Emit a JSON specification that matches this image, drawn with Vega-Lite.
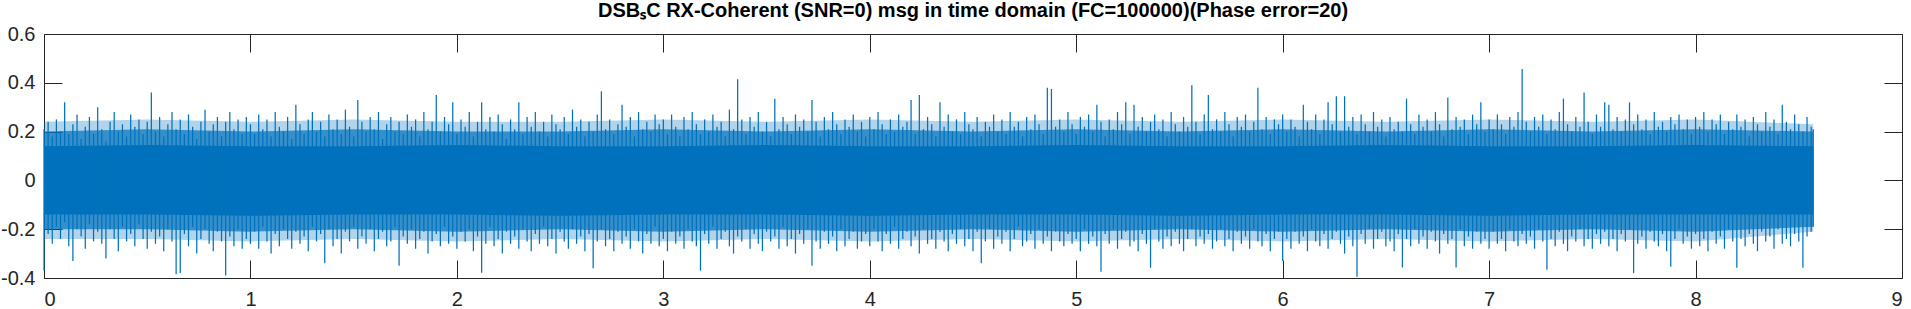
{
"$schema":"https://vega.github.io/schema/vega-lite/v6.json",
"width":1858,"height":244,
"autosize":{"type":"none"},
"padding":{"left":44,"top":34,"right":9,"bottom":31},
"background":"white",
"title":{"text":"DSBₛC RX-Coherent (SNR=0) msg in time domain (FC=100000)(Phase error=20)","font":"Liberation Sans","fontSize":20,"fontWeight":"bold","color":"#000000","anchor":"middle","frame":"group","baseline":"alphabetic","offset":-13},
"config":{"view":{"stroke":null},"axis":{"domainColor":"#262626","tickColor":"#262626","labelColor":"#262626","labelFont":"Liberation Sans","labelFontSize":20,"grid":false,"tickSize":-18,"domainWidth":1,"tickWidth":1}},
"datasets":{
"env":[
{"t":0,"eh":0.2,"el":-0.2,"fh":0.24,"fl":-0.24,"ch":0.14,"cl":-0.14},
{"t":0.5,"eh":0.21,"el":-0.2,"fh":0.25,"fl":-0.24,"ch":0.145,"cl":-0.14},
{"t":1,"eh":0.2,"el":-0.21,"fh":0.24,"fl":-0.25,"ch":0.14,"cl":-0.145},
{"t":1.5,"eh":0.21,"el":-0.2,"fh":0.25,"fl":-0.24,"ch":0.14,"cl":-0.14},
{"t":2,"eh":0.2,"el":-0.21,"fh":0.24,"fl":-0.25,"ch":0.145,"cl":-0.14},
{"t":2.5,"eh":0.2,"el":-0.2,"fh":0.24,"fl":-0.24,"ch":0.14,"cl":-0.145},
{"t":3,"eh":0.21,"el":-0.21,"fh":0.25,"fl":-0.25,"ch":0.14,"cl":-0.14},
{"t":3.5,"eh":0.2,"el":-0.2,"fh":0.24,"fl":-0.24,"ch":0.145,"cl":-0.14},
{"t":4,"eh":0.21,"el":-0.21,"fh":0.25,"fl":-0.25,"ch":0.14,"cl":-0.145},
{"t":4.5,"eh":0.2,"el":-0.2,"fh":0.24,"fl":-0.24,"ch":0.14,"cl":-0.14},
{"t":5,"eh":0.21,"el":-0.21,"fh":0.25,"fl":-0.25,"ch":0.145,"cl":-0.14},
{"t":5.5,"eh":0.2,"el":-0.2,"fh":0.24,"fl":-0.24,"ch":0.14,"cl":-0.145},
{"t":6,"eh":0.21,"el":-0.21,"fh":0.25,"fl":-0.25,"ch":0.14,"cl":-0.14},
{"t":6.5,"eh":0.2,"el":-0.2,"fh":0.24,"fl":-0.24,"ch":0.145,"cl":-0.14},
{"t":7,"eh":0.21,"el":-0.21,"fh":0.25,"fl":-0.25,"ch":0.14,"cl":-0.145},
{"t":7.5,"eh":0.2,"el":-0.2,"fh":0.24,"fl":-0.24,"ch":0.14,"cl":-0.14},
{"t":8,"eh":0.21,"el":-0.21,"fh":0.25,"fl":-0.25,"ch":0.145,"cl":-0.14},
{"t":8.57,"eh":0.2,"el":-0.19,"fh":0.23,"fl":-0.21,"ch":0.14,"cl":-0.14}
],
"sig":[
{"t":0,"h":0.21,"l":-0.37},{"t":0.02,"h":0.24,"l":-0.22},{"t":0.04,"h":0.18,"l":-0.26},{"t":0.06,"h":0.25,"l":-0.19},{"t":0.08,"h":0.2,"l":-0.24},
{"t":0.1,"h":0.32,"l":-0.17},{"t":0.12,"h":0.19,"l":-0.27},{"t":0.14,"h":0.23,"l":-0.33},{"t":0.16,"h":0.27,"l":-0.2},{"t":0.18,"h":0.17,"l":-0.23},
{"t":0.2,"h":0.22,"l":-0.28},{"t":0.22,"h":0.26,"l":-0.18},{"t":0.24,"h":0.19,"l":-0.25},{"t":0.26,"h":0.3,"l":-0.21},{"t":0.28,"h":0.21,"l":-0.26},
{"t":0.3,"h":0.16,"l":-0.32},{"t":0.32,"h":0.24,"l":-0.2},{"t":0.34,"h":0.28,"l":-0.24},{"t":0.36,"h":0.2,"l":-0.29},{"t":0.38,"h":0.23,"l":-0.19},
{"t":0.4,"h":0.18,"l":-0.25},{"t":0.42,"h":0.27,"l":-0.22},{"t":0.44,"h":0.22,"l":-0.27},{"t":0.46,"h":0.25,"l":-0.18},{"t":0.48,"h":0.19,"l":-0.24},
{"t":0.5,"h":0.24,"l":-0.28},{"t":0.52,"h":0.36,"l":-0.21},{"t":0.54,"h":0.2,"l":-0.26},{"t":0.56,"h":0.26,"l":-0.23},{"t":0.58,"h":0.18,"l":-0.29},
{"t":0.6,"h":0.23,"l":-0.2},{"t":0.62,"h":0.28,"l":-0.25},{"t":0.64,"h":0.21,"l":-0.385},{"t":0.66,"h":0.25,"l":-0.38},{"t":0.68,"h":0.19,"l":-0.22},
{"t":0.7,"h":0.27,"l":-0.27},{"t":0.72,"h":0.22,"l":-0.19},{"t":0.74,"h":0.17,"l":-0.3},{"t":0.76,"h":0.24,"l":-0.24},{"t":0.78,"h":0.29,"l":-0.2},
{"t":0.8,"h":0.2,"l":-0.26},{"t":0.82,"h":0.23,"l":-0.29},{"t":0.84,"h":0.26,"l":-0.21},{"t":0.86,"h":0.18,"l":-0.25},{"t":0.88,"h":0.24,"l":-0.39},
{"t":0.9,"h":0.28,"l":-0.23},{"t":0.92,"h":0.21,"l":-0.27},{"t":0.94,"h":0.25,"l":-0.2},{"t":0.96,"h":0.19,"l":-0.28},{"t":0.98,"h":0.26,"l":-0.24},
{"t":1,"h":0.23,"l":-0.26},{"t":1.02,"h":0.19,"l":-0.21},{"t":1.04,"h":0.27,"l":-0.28},{"t":1.06,"h":0.21,"l":-0.19},{"t":1.08,"h":0.25,"l":-0.25},
{"t":1.1,"h":0.18,"l":-0.3},{"t":1.12,"h":0.28,"l":-0.22},{"t":1.14,"h":0.22,"l":-0.27},{"t":1.16,"h":0.2,"l":-0.2},{"t":1.18,"h":0.26,"l":-0.24},
{"t":1.2,"h":0.17,"l":-0.28},{"t":1.22,"h":0.31,"l":-0.21},{"t":1.24,"h":0.23,"l":-0.26},{"t":1.26,"h":0.19,"l":-0.23},{"t":1.28,"h":0.25,"l":-0.29},
{"t":1.3,"h":0.28,"l":-0.19},{"t":1.32,"h":0.2,"l":-0.25},{"t":1.34,"h":0.24,"l":-0.22},{"t":1.36,"h":0.18,"l":-0.34},{"t":1.38,"h":0.27,"l":-0.2},
{"t":1.4,"h":0.21,"l":-0.27},{"t":1.42,"h":0.25,"l":-0.24},{"t":1.44,"h":0.19,"l":-0.3},{"t":1.46,"h":0.29,"l":-0.21},{"t":1.48,"h":0.22,"l":-0.25},
{"t":1.5,"h":0.18,"l":-0.19},{"t":1.52,"h":0.33,"l":-0.28},{"t":1.54,"h":0.24,"l":-0.23},{"t":1.56,"h":0.2,"l":-0.26},{"t":1.58,"h":0.26,"l":-0.2},
{"t":1.6,"h":0.21,"l":-0.29},{"t":1.62,"h":0.28,"l":-0.24},{"t":1.64,"h":0.17,"l":-0.21},{"t":1.66,"h":0.23,"l":-0.27},{"t":1.68,"h":0.26,"l":-0.25},
{"t":1.7,"h":0.2,"l":-0.19},{"t":1.72,"h":0.24,"l":-0.35},{"t":1.74,"h":0.19,"l":-0.23},{"t":1.76,"h":0.27,"l":-0.26},{"t":1.78,"h":0.22,"l":-0.2},
{"t":1.8,"h":0.25,"l":-0.28},{"t":1.82,"h":0.18,"l":-0.24},{"t":1.84,"h":0.28,"l":-0.21},{"t":1.86,"h":0.21,"l":-0.3},{"t":1.88,"h":0.24,"l":-0.25},
{"t":1.9,"h":0.35,"l":-0.22},{"t":1.92,"h":0.2,"l":-0.27},{"t":1.94,"h":0.26,"l":-0.19},{"t":1.96,"h":0.23,"l":-0.26},{"t":1.98,"h":0.32,"l":-0.23},
{"t":2,"h":0.19,"l":-0.28},{"t":2.02,"h":0.25,"l":-0.21},{"t":2.04,"h":0.22,"l":-0.25},{"t":2.06,"h":0.28,"l":-0.2},{"t":2.08,"h":0.18,"l":-0.29},
{"t":2.1,"h":0.24,"l":-0.23},{"t":2.12,"h":0.32,"l":-0.378},{"t":2.14,"h":0.21,"l":-0.26},{"t":2.16,"h":0.26,"l":-0.19},{"t":2.18,"h":0.2,"l":-0.27},
{"t":2.2,"h":0.27,"l":-0.24},{"t":2.22,"h":0.23,"l":-0.3},{"t":2.24,"h":0.17,"l":-0.21},{"t":2.26,"h":0.25,"l":-0.26},{"t":2.28,"h":0.21,"l":-0.23},
{"t":2.3,"h":0.32,"l":-0.28},{"t":2.32,"h":0.19,"l":-0.2},{"t":2.34,"h":0.26,"l":-0.25},{"t":2.36,"h":0.22,"l":-0.29},{"t":2.38,"h":0.28,"l":-0.22},
{"t":2.4,"h":0.2,"l":-0.26},{"t":2.42,"h":0.24,"l":-0.19},{"t":2.44,"h":0.18,"l":-0.27},{"t":2.46,"h":0.27,"l":-0.24},{"t":2.48,"h":0.23,"l":-0.3},
{"t":2.5,"h":0.21,"l":-0.21},{"t":2.52,"h":0.26,"l":-0.25},{"t":2.54,"h":0.19,"l":-0.28},{"t":2.56,"h":0.29,"l":-0.2},{"t":2.58,"h":0.22,"l":-0.26},
{"t":2.6,"h":0.25,"l":-0.23},{"t":2.62,"h":0.18,"l":-0.29},{"t":2.64,"h":0.24,"l":-0.22},{"t":2.66,"h":0.2,"l":-0.36},{"t":2.68,"h":0.27,"l":-0.25},
{"t":2.7,"h":0.365,"l":-0.2},{"t":2.72,"h":0.21,"l":-0.27},{"t":2.74,"h":0.25,"l":-0.24},{"t":2.76,"h":0.19,"l":-0.29},{"t":2.78,"h":0.23,"l":-0.21},
{"t":2.8,"h":0.31,"l":-0.26},{"t":2.82,"h":0.22,"l":-0.23},{"t":2.84,"h":0.26,"l":-0.28},{"t":2.86,"h":0.18,"l":-0.2},{"t":2.88,"h":0.28,"l":-0.25},
{"t":2.9,"h":0.21,"l":-0.3},{"t":2.92,"h":0.24,"l":-0.22},{"t":2.94,"h":0.2,"l":-0.26},{"t":2.96,"h":0.27,"l":-0.19},{"t":2.98,"h":0.23,"l":-0.27},
{"t":3,"h":0.25,"l":-0.24},{"t":3.02,"h":0.19,"l":-0.29},{"t":3.04,"h":0.27,"l":-0.21},{"t":3.06,"h":0.22,"l":-0.26},{"t":3.08,"h":0.18,"l":-0.23},
{"t":3.1,"h":0.26,"l":-0.28},{"t":3.12,"h":0.21,"l":-0.2},{"t":3.14,"h":0.28,"l":-0.25},{"t":3.16,"h":0.23,"l":-0.27},{"t":3.18,"h":0.19,"l":-0.37},
{"t":3.2,"h":0.25,"l":-0.22},{"t":3.22,"h":0.2,"l":-0.26},{"t":3.24,"h":0.27,"l":-0.19},{"t":3.26,"h":0.22,"l":-0.28},{"t":3.28,"h":0.24,"l":-0.24},
{"t":3.3,"h":0.18,"l":-0.21},{"t":3.32,"h":0.29,"l":-0.27},{"t":3.34,"h":0.21,"l":-0.3},{"t":3.36,"h":0.415,"l":-0.23},{"t":3.38,"h":0.25,"l":-0.25},
{"t":3.4,"h":0.19,"l":-0.2},{"t":3.42,"h":0.26,"l":-0.28},{"t":3.44,"h":0.22,"l":-0.22},{"t":3.46,"h":0.28,"l":-0.26},{"t":3.48,"h":0.2,"l":-0.29},
{"t":3.5,"h":0.24,"l":-0.21},{"t":3.52,"h":0.18,"l":-0.25},{"t":3.54,"h":0.335,"l":-0.23},{"t":3.56,"h":0.21,"l":-0.28},{"t":3.58,"h":0.26,"l":-0.19},
{"t":3.6,"h":0.23,"l":-0.27},{"t":3.62,"h":0.19,"l":-0.24},{"t":3.64,"h":0.27,"l":-0.3},{"t":3.66,"h":0.22,"l":-0.22},{"t":3.68,"h":0.25,"l":-0.26},
{"t":3.7,"h":0.2,"l":-0.2},{"t":3.72,"h":0.33,"l":-0.35},{"t":3.74,"h":0.24,"l":-0.25},{"t":3.76,"h":0.18,"l":-0.28},{"t":3.78,"h":0.26,"l":-0.21},
{"t":3.8,"h":0.21,"l":-0.26},{"t":3.82,"h":0.28,"l":-0.23},{"t":3.84,"h":0.23,"l":-0.29},{"t":3.86,"h":0.19,"l":-0.2},{"t":3.88,"h":0.25,"l":-0.27},
{"t":3.9,"h":0.22,"l":-0.24},{"t":3.92,"h":0.27,"l":-0.21},{"t":3.94,"h":0.2,"l":-0.28},{"t":3.96,"h":0.24,"l":-0.25},{"t":3.98,"h":0.18,"l":-0.22},
{"t":4,"h":0.26,"l":-0.27},{"t":4.02,"h":0.21,"l":-0.2},{"t":4.04,"h":0.28,"l":-0.25},{"t":4.06,"h":0.23,"l":-0.29},{"t":4.08,"h":0.19,"l":-0.22},
{"t":4.1,"h":0.25,"l":-0.26},{"t":4.12,"h":0.2,"l":-0.19},{"t":4.14,"h":0.27,"l":-0.28},{"t":4.16,"h":0.22,"l":-0.24},{"t":4.18,"h":0.24,"l":-0.21},
{"t":4.2,"h":0.33,"l":-0.27},{"t":4.22,"h":0.19,"l":-0.23},{"t":4.24,"h":0.35,"l":-0.3},{"t":4.26,"h":0.21,"l":-0.2},{"t":4.28,"h":0.26,"l":-0.26},
{"t":4.3,"h":0.23,"l":-0.24},{"t":4.32,"h":0.18,"l":-0.28},{"t":4.34,"h":0.32,"l":-0.21},{"t":4.36,"h":0.22,"l":-0.25},{"t":4.38,"h":0.27,"l":-0.29},
{"t":4.4,"h":0.2,"l":-0.22},{"t":4.42,"h":0.25,"l":-0.26},{"t":4.44,"h":0.19,"l":-0.2},{"t":4.46,"h":0.28,"l":-0.27},{"t":4.48,"h":0.23,"l":-0.24},
{"t":4.5,"h":0.21,"l":-0.29},{"t":4.52,"h":0.26,"l":-0.21},{"t":4.54,"h":0.18,"l":-0.34},{"t":4.56,"h":0.24,"l":-0.25},{"t":4.58,"h":0.22,"l":-0.2},
{"t":4.6,"h":0.27,"l":-0.28},{"t":4.62,"h":0.2,"l":-0.23},{"t":4.64,"h":0.25,"l":-0.26},{"t":4.66,"h":0.19,"l":-0.21},{"t":4.68,"h":0.28,"l":-0.29},
{"t":4.7,"h":0.22,"l":-0.24},{"t":4.72,"h":0.24,"l":-0.19},{"t":4.74,"h":0.18,"l":-0.27},{"t":4.76,"h":0.26,"l":-0.25},{"t":4.78,"h":0.21,"l":-0.22},
{"t":4.8,"h":0.27,"l":-0.28},{"t":4.82,"h":0.23,"l":-0.2},{"t":4.84,"h":0.19,"l":-0.26},{"t":4.86,"h":0.38,"l":-0.23},{"t":4.88,"h":0.375,"l":-0.29},
{"t":4.9,"h":0.22,"l":-0.21},{"t":4.92,"h":0.25,"l":-0.25},{"t":4.94,"h":0.2,"l":-0.27},{"t":4.96,"h":0.28,"l":-0.22},{"t":4.98,"h":0.23,"l":-0.26},
{"t":5,"h":0.19,"l":-0.24},{"t":5.02,"h":0.26,"l":-0.29},{"t":5.04,"h":0.22,"l":-0.2},{"t":5.06,"h":0.27,"l":-0.26},{"t":5.08,"h":0.2,"l":-0.23},
{"t":5.1,"h":0.31,"l":-0.27},{"t":5.12,"h":0.24,"l":-0.374},{"t":5.14,"h":0.18,"l":-0.22},{"t":5.16,"h":0.25,"l":-0.26},{"t":5.18,"h":0.21,"l":-0.2},
{"t":5.2,"h":0.28,"l":-0.28},{"t":5.22,"h":0.23,"l":-0.24},{"t":5.24,"h":0.32,"l":-0.21},{"t":5.26,"h":0.19,"l":-0.27},{"t":5.28,"h":0.31,"l":-0.25},
{"t":5.3,"h":0.22,"l":-0.29},{"t":5.32,"h":0.26,"l":-0.22},{"t":5.34,"h":0.2,"l":-0.26},{"t":5.36,"h":0.24,"l":-0.358},{"t":5.38,"h":0.27,"l":-0.2},
{"t":5.4,"h":0.21,"l":-0.25},{"t":5.42,"h":0.25,"l":-0.28},{"t":5.44,"h":0.18,"l":-0.23},{"t":5.46,"h":0.28,"l":-0.27},{"t":5.48,"h":0.23,"l":-0.21},
{"t":5.5,"h":0.2,"l":-0.26},{"t":5.52,"h":0.26,"l":-0.29},{"t":5.54,"h":0.22,"l":-0.24},{"t":5.56,"h":0.39,"l":-0.2},{"t":5.58,"h":0.24,"l":-0.27},
{"t":5.6,"h":0.19,"l":-0.23},{"t":5.62,"h":0.27,"l":-0.26},{"t":5.64,"h":0.35,"l":-0.22},{"t":5.66,"h":0.21,"l":-0.28},{"t":5.68,"h":0.25,"l":-0.25},
{"t":5.7,"h":0.2,"l":-0.2},{"t":5.72,"h":0.28,"l":-0.27},{"t":5.74,"h":0.23,"l":-0.24},{"t":5.76,"h":0.18,"l":-0.29},{"t":5.78,"h":0.26,"l":-0.21},
{"t":5.8,"h":0.22,"l":-0.26},{"t":5.82,"h":0.27,"l":-0.23},{"t":5.84,"h":0.2,"l":-0.28},{"t":5.86,"h":0.24,"l":-0.2},{"t":5.88,"h":0.38,"l":-0.25},
{"t":5.9,"h":0.21,"l":-0.27},{"t":5.92,"h":0.26,"l":-0.22},{"t":5.94,"h":0.19,"l":-0.29},{"t":5.96,"h":0.25,"l":-0.24},{"t":5.98,"h":0.23,"l":-0.21},
{"t":6,"h":0.27,"l":-0.33},{"t":6.02,"h":0.2,"l":-0.24},{"t":6.04,"h":0.25,"l":-0.28},{"t":6.06,"h":0.22,"l":-0.21},{"t":6.08,"h":0.18,"l":-0.26},
{"t":6.1,"h":0.31,"l":-0.23},{"t":6.12,"h":0.24,"l":-0.29},{"t":6.14,"h":0.21,"l":-0.2},{"t":6.16,"h":0.27,"l":-0.25},{"t":6.18,"h":0.19,"l":-0.27},
{"t":6.2,"h":0.25,"l":-0.22},{"t":6.22,"h":0.32,"l":-0.28},{"t":6.24,"h":0.23,"l":-0.24},{"t":6.26,"h":0.345,"l":-0.21},{"t":6.28,"h":0.2,"l":-0.26},
{"t":6.3,"h":0.345,"l":-0.3},{"t":6.32,"h":0.22,"l":-0.23},{"t":6.34,"h":0.26,"l":-0.27},{"t":6.36,"h":0.19,"l":-0.395},{"t":6.38,"h":0.27,"l":-0.22},
{"t":6.4,"h":0.23,"l":-0.26},{"t":6.42,"h":0.2,"l":-0.2},{"t":6.44,"h":0.28,"l":-0.28},{"t":6.46,"h":0.22,"l":-0.24},{"t":6.48,"h":0.25,"l":-0.21},
{"t":6.5,"h":0.18,"l":-0.27},{"t":6.52,"h":0.26,"l":-0.25},{"t":6.54,"h":0.21,"l":-0.29},{"t":6.56,"h":0.24,"l":-0.22},{"t":6.58,"h":0.2,"l":-0.357},
{"t":6.6,"h":0.335,"l":-0.24},{"t":6.62,"h":0.23,"l":-0.27},{"t":6.64,"h":0.19,"l":-0.2},{"t":6.66,"h":0.27,"l":-0.26},{"t":6.68,"h":0.22,"l":-0.23},
{"t":6.7,"h":0.25,"l":-0.28},{"t":6.72,"h":0.2,"l":-0.21},{"t":6.74,"h":0.28,"l":-0.25},{"t":6.76,"h":0.23,"l":-0.3},{"t":6.78,"h":0.18,"l":-0.22},
{"t":6.8,"h":0.34,"l":-0.26},{"t":6.82,"h":0.21,"l":-0.24},{"t":6.84,"h":0.26,"l":-0.357},{"t":6.86,"h":0.22,"l":-0.2},{"t":6.88,"h":0.25,"l":-0.27},
{"t":6.9,"h":0.19,"l":-0.23},{"t":6.92,"h":0.27,"l":-0.28},{"t":6.94,"h":0.23,"l":-0.21},{"t":6.96,"h":0.32,"l":-0.26},{"t":6.98,"h":0.2,"l":-0.24},
{"t":7,"h":0.25,"l":-0.28},{"t":7.02,"h":0.21,"l":-0.21},{"t":7.04,"h":0.27,"l":-0.26},{"t":7.06,"h":0.23,"l":-0.24},{"t":7.08,"h":0.19,"l":-0.29},
{"t":7.1,"h":0.26,"l":-0.2},{"t":7.12,"h":0.22,"l":-0.25},{"t":7.14,"h":0.28,"l":-0.27},{"t":7.16,"h":0.457,"l":-0.22},{"t":7.18,"h":0.24,"l":-0.26},
{"t":7.2,"h":0.2,"l":-0.23},{"t":7.22,"h":0.26,"l":-0.28},{"t":7.24,"h":0.22,"l":-0.2},{"t":7.26,"h":0.27,"l":-0.25},{"t":7.28,"h":0.19,"l":-0.366},
{"t":7.3,"h":0.25,"l":-0.24},{"t":7.32,"h":0.21,"l":-0.27},{"t":7.34,"h":0.28,"l":-0.21},{"t":7.36,"h":0.335,"l":-0.26},{"t":7.38,"h":0.23,"l":-0.29},
{"t":7.4,"h":0.2,"l":-0.23},{"t":7.42,"h":0.26,"l":-0.25},{"t":7.44,"h":0.22,"l":-0.2},{"t":7.46,"h":0.36,"l":-0.27},{"t":7.48,"h":0.24,"l":-0.24},
{"t":7.5,"h":0.19,"l":-0.28},{"t":7.52,"h":0.27,"l":-0.22},{"t":7.54,"h":0.22,"l":-0.26},{"t":7.56,"h":0.32,"l":-0.21},{"t":7.58,"h":0.31,"l":-0.27},
{"t":7.6,"h":0.21,"l":-0.24},{"t":7.62,"h":0.26,"l":-0.29},{"t":7.64,"h":0.2,"l":-0.22},{"t":7.66,"h":0.25,"l":-0.25},{"t":7.68,"h":0.32,"l":-0.2},
{"t":7.7,"h":0.23,"l":-0.38},{"t":7.72,"h":0.27,"l":-0.26},{"t":7.74,"h":0.21,"l":-0.23},{"t":7.76,"h":0.25,"l":-0.28},{"t":7.78,"h":0.19,"l":-0.21},
{"t":7.8,"h":0.28,"l":-0.25},{"t":7.82,"h":0.22,"l":-0.27},{"t":7.84,"h":0.24,"l":-0.22},{"t":7.86,"h":0.2,"l":-0.29},{"t":7.88,"h":0.26,"l":-0.354},
{"t":7.9,"h":0.23,"l":-0.24},{"t":7.92,"h":0.27,"l":-0.2},{"t":7.94,"h":0.21,"l":-0.26},{"t":7.96,"h":0.25,"l":-0.23},{"t":7.98,"h":0.19,"l":-0.28},
{"t":8,"h":0.26,"l":-0.22},{"t":8.02,"h":0.22,"l":-0.27},{"t":8.04,"h":0.28,"l":-0.24},{"t":8.06,"h":0.2,"l":-0.29},{"t":8.08,"h":0.25,"l":-0.21},
{"t":8.1,"h":0.23,"l":-0.26},{"t":8.12,"h":0.27,"l":-0.23},{"t":8.14,"h":0.19,"l":-0.28},{"t":8.16,"h":0.24,"l":-0.2},{"t":8.18,"h":0.21,"l":-0.25},
{"t":8.2,"h":0.27,"l":-0.358},{"t":8.22,"h":0.22,"l":-0.24},{"t":8.24,"h":0.25,"l":-0.27},{"t":8.26,"h":0.18,"l":-0.22},{"t":8.28,"h":0.26,"l":-0.26},
{"t":8.3,"h":0.23,"l":-0.29},{"t":8.32,"h":0.2,"l":-0.21},{"t":8.34,"h":0.28,"l":-0.25},{"t":8.36,"h":0.22,"l":-0.23},{"t":8.38,"h":0.25,"l":-0.28},
{"t":8.4,"h":0.19,"l":-0.2},{"t":8.42,"h":0.31,"l":-0.26},{"t":8.44,"h":0.24,"l":-0.24},{"t":8.46,"h":0.21,"l":-0.27},{"t":8.48,"h":0.27,"l":-0.22},
{"t":8.5,"h":0.23,"l":-0.25},{"t":8.52,"h":0.2,"l":-0.358},{"t":8.54,"h":0.26,"l":-0.23},{"t":8.56,"h":0.22,"l":-0.21},{"t":8.57,"h":0.21,"l":-0.19}
]},
"layer":[
{"data":{"name":"env"},"mark":{"type":"area","color":"#0072BD","opacity":0.3},
"encoding":{
"x":{"field":"t","type":"quantitative","title":null,"scale":{"domain":[0,9],"nice":false,"zero":false},"axis":{"orient":"bottom","values":[0,1,2,3,4,5,6,7,8,9],"format":"d","labelPadding":29}},
"y":{"field":"fl","type":"quantitative","title":null,"scale":{"domain":[-0.4,0.6],"nice":false,"zero":false},"axis":{"orient":"left","values":[-0.4,-0.2,0,0.2,0.4,0.6],"labelPadding":27,"labelExpr":"datum.value == 0 ? '0' : replace(format(datum.value, '.1f'), '\u2212', '-')"}},
"y2":{"field":"fh"}}},
{"data":{"name":"env"},"mark":{"type":"area","color":"#0072BD","opacity":0.7},
"encoding":{
"x":{"field":"t","type":"quantitative","axis":null},
"y":{"field":"el","type":"quantitative","axis":null},
"y2":{"field":"eh"}}},
{"data":{"name":"env"},"mark":{"type":"area","color":"#0072BD"},
"encoding":{
"x":{"field":"t","type":"quantitative","axis":null},
"y":{"field":"cl","type":"quantitative","axis":null},
"y2":{"field":"ch"}}},
{"data":{"name":"sig"},"mark":{"type":"rule","color":"#0072BD","strokeWidth":1.25},
"encoding":{
"x":{"field":"t","type":"quantitative","title":null,"axis":{"orient":"top","values":[0,1,2,3,4,5,6,7,8,9],"labels":false}},
"y":{"field":"l","type":"quantitative","title":null,"axis":{"orient":"right","values":[-0.4,-0.2,0,0.2,0.4,0.6],"labels":false}},
"y2":{"field":"h"}}}
],
"resolve":{"axis":{"x":"independent","y":"independent"}}
}
